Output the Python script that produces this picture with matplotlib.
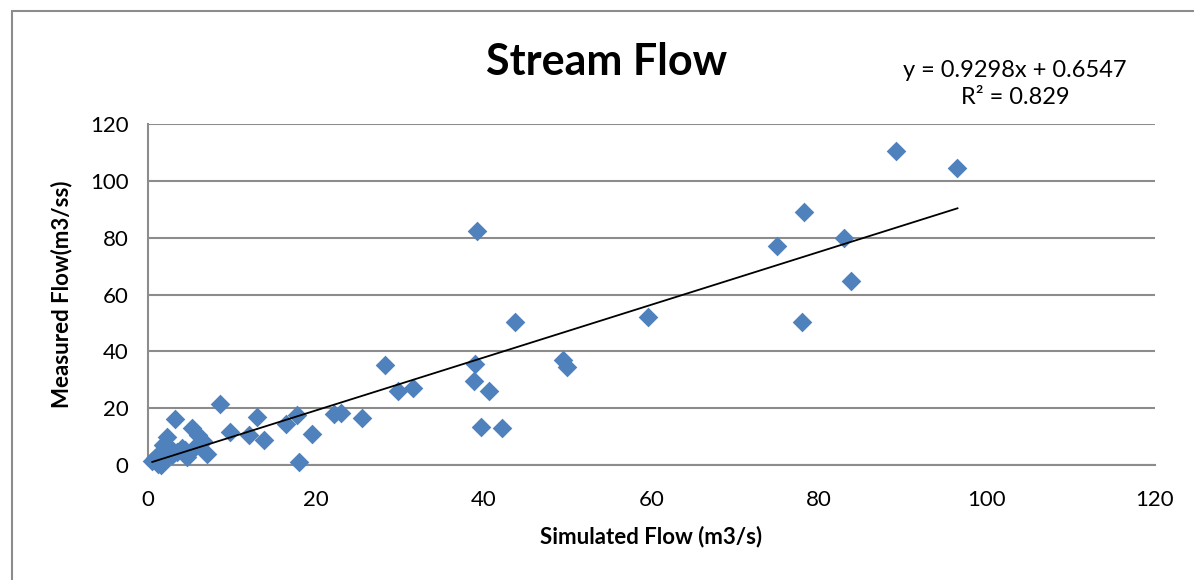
import numpy as np
import matplotlib.pyplot as plt
from matplotlib.patches import Rectangle

simulado = [89.2, 96.5, 78.2, 39.2, 75.0, 83.0, 83.8, 78.0, 59.6, 43.8,
            49.5, 50.0, 39.0, 28.2, 38.9, 40.6, 31.6, 29.8, 39.7, 42.2,
            22.2, 23.0, 25.5, 17.7, 16.5, 13.0, 19.6, 18.0, 13.8, 12.0,
            9.8, 8.6, 3.2, 5.2, 6.0, 6.6, 7.0, 4.7, 3.0, 2.3,
            1.8, 2.5, 1.0, 0.5, 1.2, 1.5, 2.0, 2.8, 4.0, 3.5,
            5.5, 6.2, 1.3, 2.2, 4.4, 0.8]
medido = [110.5, 104.5, 89.0, 82.3, 77.2, 79.8, 64.7, 50.5, 52.0, 50.2,
          37.0, 34.5, 35.5, 35.2, 29.5, 26.0, 27.3, 26.0, 13.5, 13.2,
          18.0, 18.5, 16.5, 17.5, 14.5, 17.0, 11.0, 1.2, 9.0, 10.5,
          11.5, 21.5, 16.2, 13.2, 10.5, 8.5, 4.0, 3.0, 5.0, 10.0,
          7.0, 6.0, 3.0, 1.5, 0.5, 0.0, 2.0, 3.5, 6.0, 4.5,
          6.0, 7.5, 1.5, 4.0, 5.5, 2.5]

pendiente, ordenada = 0.9298, 0.6547
ecuacion = "y = 0.9298x + 0.6547\nR² = 0.829"

plt.rcParams['font.family'] = ['Lato', 'DejaVu Sans']

fig = plt.figure(figsize=(11.94, 5.8), dpi=100)
ax = fig.add_axes([0.124, 0.198, 0.843, 0.588])

ax.scatter(simulado, medido, marker='D', s=100, color='#4F81BD', zorder=3,
           linewidths=0, clip_on=False)
xs = np.array([min(simulado), max(simulado)])
ax.plot(xs, pendiente * xs + ordenada, color='black', lw=1.3, zorder=4)

ax.set_xlim(0, 120)
ax.set_ylim(0, 120)
ax.set_xticks(range(0, 121, 20))
ax.set_yticks(range(0, 121, 20))
ax.tick_params(length=0, labelsize=16)
ax.tick_params(axis='x', pad=18)
ax.tick_params(axis='y', pad=14)
ax.yaxis.grid(True, color='#8c8c8c', lw=1.5)
ax.set_axisbelow(True)
for lado in ['top', 'right']:
    ax.spines[lado].set_visible(False)
ax.spines['left'].set_color('#8c8c8c')
ax.spines['bottom'].set_color('#8c8c8c')
ax.spines['left'].set_linewidth(1.5)
ax.spines['bottom'].set_linewidth(1.5)

ax.set_xlabel("Simulated Flow (m3/s)", fontsize=16, fontweight='bold', labelpad=11)
ax.set_ylabel("Measured Flow(m3/ss)", fontsize=16, fontweight='bold', labelpad=13)

fig.text(607 / 1194, 1 - 62 / 580, "Stream Flow", fontsize=31, fontweight='bold',
         ha='center', va='center')
fig.text(1015 / 1194, 1 - 84 / 580, ecuacion, fontsize=17, ha='center',
         va='center', linespacing=1.3)

# marco exterior del grafico
fig.patches.append(Rectangle((12 / 1194, -0.1), 1.2, 1 - 11 / 580 + 0.1,
                             transform=fig.transFigure, fill=False,
                             edgecolor='#8c8c8c', lw=1.5))

fig.savefig("out.png", dpi=100)
